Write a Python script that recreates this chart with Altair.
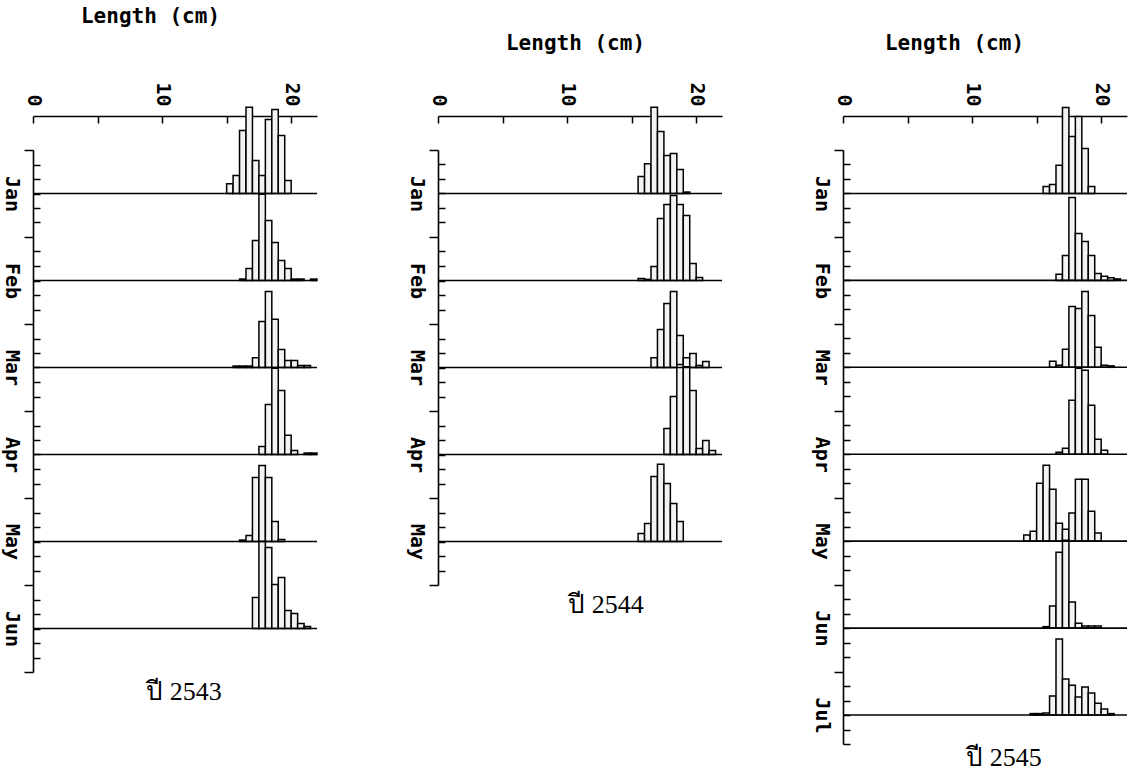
import altair as alt
import pandas as pd

# ---------------- data (frequency units: one month row = 30) ----------------
XMAX = 22.0
ROW = 30
BIN = 0.5

# ปี 2543
months_2543 = ["Jan", "Feb", "Mar", "Apr", "May", "Jun"]
start_2543 = [15.0, 16.0, 15.5, 17.5, 16.0, 17.0]
jan_2543 = [3.4, 6.2, 21.7, 29.7, 11.4, 6.2, 25.5, 29.0, 20.0, 4.5]
feb_2543 = [0.5, 4.1, 13.8, 29.7, 20.7, 13.1, 6.9, 4.1, 0.5, 0.5, 0, 0.5]
mar_2543 = [0.5, 0.5, 0.5, 3.4, 15.9, 26.2, 16.6, 6.2, 2.4, 2.4, 0.7, 0.7]
apr_2543 = [2.8, 17.2, 29.7, 22.1, 6.6, 1.4, 0, 0.5, 0.5]
may_2543 = [0.5, 2.1, 22.1, 26.2, 22.1, 6.9, 0.7]
jun_2543 = [10.7, 30.0, 27.9, 15.2, 17.6, 6.2, 5.2, 1.7, 0.7]

# ปี 2544
months_2544 = ["Jan", "Feb", "Mar", "Apr", "May"]
start_2544 = [15.5, 15.5, 16.5, 17.5, 15.5]
jan_2544 = [5.9, 10.3, 29.7, 21.4, 13.1, 13.8, 8.3, 0.5]
feb_2544 = [0.7, 0.4, 4.8, 21.4, 26.2, 29.3, 26.2, 22.4, 5.9, 1.0]
mar_2544 = [3.4, 13.1, 22.1, 26.2, 11.0, 3.4, 4.8, 0.7, 2.1]
apr_2544 = [9.0, 20.0, 31.0, 30.3, 22.1, 2.1, 4.8, 1.4]
may_2544 = [2.8, 6.2, 22.4, 26.6, 20.0, 13.1, 6.9]

# ปี 2545
months_2545 = ["Jan", "Feb", "Mar", "Apr", "May", "Jun", "Jul"]
start_2545 = [15.5, 16.5, 16.0, 16.5, 14.0, 15.5, 14.5]
jan_2545 = [2.4, 3.1, 9.7, 29.7, 19.7, 26.6, 15.5, 2.4]
feb_2545 = [2.1, 8.6, 28.6, 16.2, 13.4, 8.6, 2.4, 1.4, 0.9, 0.5]
mar_2545 = [2.1, 0.7, 6.2, 21.0, 20.3, 26.2, 17.9, 6.9, 0.7, 0.5]
apr_2545 = [0.7, 2.1, 18.6, 29.7, 29.0, 16.9, 5.2, 1.4]
may_2545 = [2.1, 3.4, 20.0, 26.2, 17.9, 6.2, 4.1, 9.7, 21.4, 21.4, 10.3, 2.8]
jun_2545 = [0.5, 7.6, 26.2, 30.3, 9.0, 1.7, 0.7, 0.7, 0.7]
jul_2545 = [0.5, 0.5, 0.7, 6.6, 26.2, 12.4, 10.3, 6.2, 9.7, 7.6, 4.1, 2.1, 0.5]

x_ticks = [0, 5, 10, 15, 20]

# ---------------- styling ----------------
MONO = "DejaVu Sans Mono"
SERIF = "Liberation Serif"
PLOT_W = 284
PX_PER_UNIT = 2.9


def panel(year_label, months, starts, freqs, ymin, title_x, title_y, foot_dx, foot_offset):
    n = len(months)
    bars, bases = [], []
    for i, (m, s, f) in enumerate(zip(months, starts, freqs)):
        base = ROW * (n - 1 - i) + ROW / 2
        bases.append({"month": m, "base": base})
        for k, h in enumerate(f):
            if h <= 0:
                continue
            bars.append({"month": m, "lo": s + k * BIN, "hi": s + (k + 1) * BIN,
                         "base": base, "top": base + h})
    bar_df = pd.DataFrame(bars)
    base_df = pd.DataFrame(bases)
    ymax = ROW * n

    xscale = alt.Scale(domain=[0, XMAX], nice=False, zero=False)
    yscale = alt.Scale(domain=[ymin, ymax], nice=False, zero=False)

    major = [v for v in range(0, ymax + 1, ROW) if v >= ymin]
    minor = [v for v in range(0, ymax + 1, 5) if v % ROW != 0 and v >= ymin]
    expr = " : ".join(f"datum.value == {b['base']} ? '{b['month']}'" for b in bases) + " : ''"

    y_major = alt.Axis(orient="left", values=major, tickSize=9, labels=False,
                       title=None, domain=True, grid=False)
    y_minor = alt.Axis(orient="left", offset=-7, values=minor, tickSize=7, domain=False,
                       labelExpr=expr, labelAngle=90, labelAlign="center",
                       labelBaseline="top", labelPadding=12, labelOverlap=False,
                       title=None, grid=False)
    x_line = alt.Axis(orient="top", offset=34, domain=True, ticks=False, labels=False,
                      title="Length (cm)", titleFont=MONO, titleFontSize=21,
                      titleFontWeight="bold", titleX=title_x, titleY=title_y,
                      titleAlign="center", titleBaseline="bottom", titleAngle=0,
                      titleColor="black", grid=False)
    x_tick = alt.Axis(orient="top", offset=27, domain=False, values=x_ticks, tickSize=7,
                      labelExpr="datum.value % 10 == 0 ? datum.label : ''",
                      labelAngle=90, labelAlign="right", labelBaseline="middle",
                      labelPadding=10, labelFlush=False, labelOverlap=False,
                      title=None, grid=False)

    bar_layer = alt.Chart(bar_df).mark_rect(
        fill="#f3f3f3", stroke="black", strokeWidth=1.5
    ).encode(
        x=alt.X("lo:Q", scale=xscale, axis=x_tick),
        x2="hi:Q",
        y=alt.Y("base:Q", scale=yscale, axis=y_minor),
        y2="top:Q",
    )
    rule_layer = alt.Chart(base_df).mark_rule(color="black", strokeWidth=1.6).encode(
        y=alt.Y("base:Q", scale=yscale, axis=y_major),
        x=alt.X(datum=0, type="quantitative", scale=xscale, axis=x_line),
        x2=alt.X2(datum=XMAX),
    )
    return alt.layer(bar_layer, rule_layer).resolve_axis(
        x="independent", y="independent"
    ).properties(
        width=PLOT_W,
        height=round((ymax - ymin) * PX_PER_UNIT),
        title=alt.TitleParams(year_label, orient="bottom", font=SERIF, fontSize=26,
                              fontWeight="normal", color="black", dx=foot_dx,
                              offset=foot_offset, anchor="middle"),
    )


p1 = panel("ปี 2543", months_2543, start_2543,
           [jan_2543, feb_2543, mar_2543, apr_2543, may_2543, jun_2543],
           0, 117, -90, 9, 6)
p2 = panel("ปี 2544", months_2544, start_2544,
           [jan_2544, feb_2544, mar_2544, apr_2544, may_2544],
           0, 137, -63, 26, 6)
p3 = panel("ปี 2545", months_2545, start_2545,
           [jan_2545, feb_2545, mar_2545, apr_2545, may_2545, jun_2545, jul_2545],
           5, 111, -63, 19, 0)

chart = alt.hconcat(p1, p2, p3, spacing=88).properties(
    padding={"left": 1, "top": 5, "right": 0, "bottom": 0},
    background="white",
).configure_view(stroke=None).configure_axis(
    domainColor="black", tickColor="black", labelColor="black",
    domainWidth=1.6, tickWidth=1.5,
    labelFont=MONO, labelFontWeight="bold", labelFontSize=20, grid=False,
)

chart.save("out.html", embed_options={"renderer": "svg", "actions": False})
